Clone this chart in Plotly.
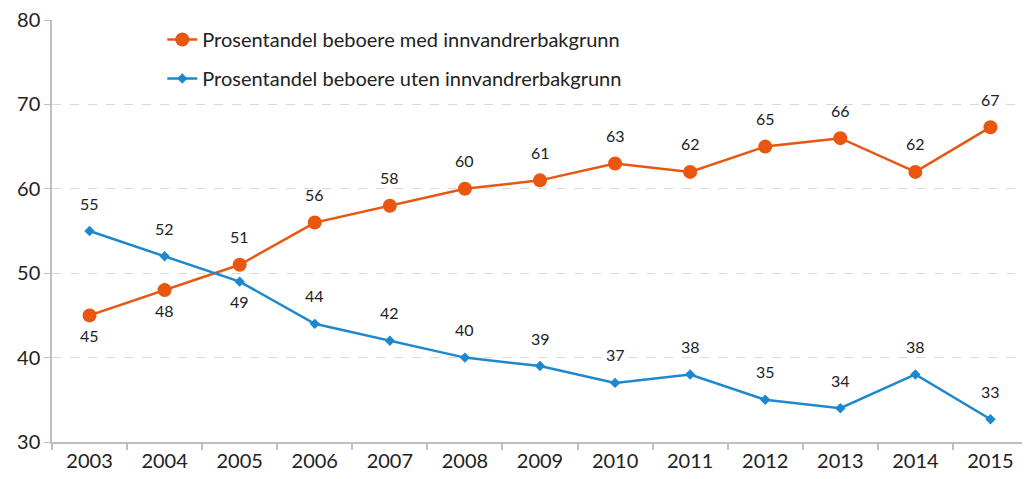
import plotly.graph_objects as go

years = [2003, 2004, 2005, 2006, 2007, 2008, 2009, 2010, 2011, 2012, 2013, 2014, 2015]
med = [45, 48, 51, 56, 58, 60, 61, 63, 62, 65, 66, 62, 67.3]
uten = [55, 52, 49, 44, 42, 40, 39, 37, 38, 35, 34, 38, 32.7]
med_labels = ["45","48","51","56","58","60","61","63","62","65","66","62","67"]
uten_labels = ["55","52","49","44","42","40","39","37","38","35","34","38","33"]
med_above = [False, False] + [True]*11
uten_above = [True, True, False] + [True]*10

orange = "#E9560F"
blue = "#1E88CF"
font = "Lato, Open Sans, sans-serif"

fig = go.Figure()
fig.add_trace(go.Scatter(
    x=years, y=med, mode="lines+markers", name="Prosentandel beboere med innvandrerbakgrunn",
    line=dict(color=orange, width=2.5), marker=dict(symbol="circle", size=14, color=orange),
    legendgroup="a", cliponaxis=False))
fig.add_trace(go.Scatter(
    x=years, y=uten, mode="lines+markers", name="Prosentandel beboere uten innvandrerbakgrunn",
    line=dict(color=blue, width=2.5), marker=dict(symbol="diamond", size=8, color=blue),
    legendgroup="b", cliponaxis=False))

annotations = []
for ys, labels, above in ((med, med_labels, med_above), (uten, uten_labels, uten_above)):
    for x, y, t, a in zip(years, ys, labels, above):
        annotations.append(dict(x=x, y=y, xref="x", yref="y", text=t, showarrow=False,
                                xanchor="center", yanchor="middle", yshift=28 if a else -20,
                                font=dict(size=16, color="#222", family=font)))

fig.update_layout(
    width=1030, height=479,
    margin=dict(l=44, r=10, t=12, b=45, autoexpand=False),
    paper_bgcolor="white", plot_bgcolor="white",
    font=dict(family=font, size=17, color="#222"),
    showlegend=True,
    annotations=annotations,
    legend=dict(x=0.113, y=1.0, xanchor="left", yanchor="top", bgcolor="rgba(0,0,0,0)",
                font=dict(size=20, family=font), tracegroupgap=10),
    xaxis=dict(range=[2002.5, 2015.5], tickmode="array", tickvals=years,
               ticktext=[str(y) for y in years], showgrid=False, showline=True,
               linecolor="#BFBFBF", linewidth=1.5, ticks="", zeroline=False,
               tickfont=dict(size=20, family=font), automargin=False,
               minor=dict(ticks="outside", tick0=2002.5, dtick=1, ticklen=6,
                          tickcolor="#BFBFBF", tickwidth=1.5, showgrid=False)),
    yaxis=dict(range=[30, 80], dtick=10, showgrid=True, gridcolor="#D9D9D9", griddash="dash",
               showline=True, linecolor="#BFBFBF", linewidth=1.5, ticks="outside", ticklen=6,
               tickcolor="#BFBFBF", tickfont=dict(size=20, family=font), zeroline=False,
               ticklabeloverflow="allow", automargin=False),
)
fig.write_html("out.html")
